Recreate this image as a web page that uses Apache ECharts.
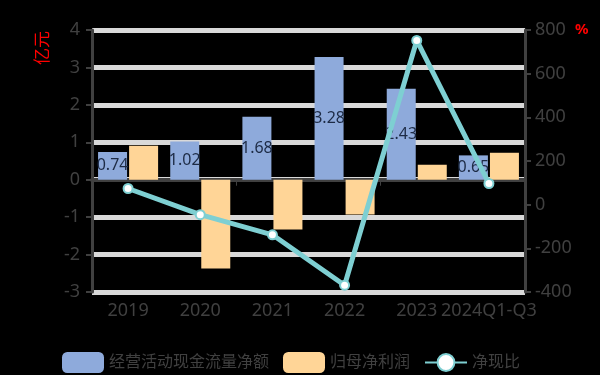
<!DOCTYPE html>
<html>
<head>
<meta charset="utf-8">
<style>
  html, body { margin: 0; padding: 0; background: #000; }
  #chart { width: 600px; height: 375px; }
</style>
<script src="https://cdn.jsdelivr.net/npm/echarts@6/dist/echarts.min.js"></script>
</head>
<body>
<div id="chart"></div>
<script>
// Categories along the x axis
const categories = ['2019', '2020', '2021', '2022', '2023', '2024Q1-Q3'];
// Operating cash flow, net (亿元)
const cashFlow = [0.74, 1.02, 1.68, 3.28, 2.43, 0.65];
// Net profit attributable to parent (亿元)
const netProfit = [0.91, -2.37, -1.33, -0.93, 0.40, 0.72];
// Cash-to-profit ratio (%)
const cashRatio = [74, -46, -138, -369, 752, 97];
const seriesNames = ['经营活动现金流量净额', '归母净利润', '净现比'];

const textColor = '#404040';
const font = '"Noto Sans", "Noto Sans CJK SC", sans-serif';

const chart = echarts.init(document.getElementById('chart'));
chart.setOption({
  backgroundColor: '#000',
  animation: false,
  textStyle: { fontFamily: font },
  grid: { left: 92, right: 75, top: 30, bottom: 83 },
  legend: {
    top: 347,
    left: 57,
    itemWidth: 42,
    itemHeight: 21,
    itemGap: 14,
    textStyle: { color: textColor, fontSize: 16, fontFamily: font },
    data: [
      { name: seriesNames[0], icon: 'roundRect' },
      { name: seriesNames[1], icon: 'roundRect' },
      { name: seriesNames[2] }
    ]
  },
  graphic: [
    {
      type: 'text', left: 35, top: 31, rotation: Math.PI / 2, originX: 0, originY: 0,
      style: { text: '亿元', fill: '#ff0000', fontSize: 17, fontFamily: font }
    },
    {
      type: 'text', left: 575, top: 22,
      style: { text: '%', fill: '#ff0000', fontSize: 15, fontWeight: 'bold', fontFamily: font }
    }
  ],
  xAxis: [
    {
      type: 'category',
      data: categories,
      axisLine: { onZero: true, lineStyle: { color: textColor, width: 4 } },
      axisTick: { show: true, length: 6, lineStyle: { color: textColor, width: 1 } },
      axisLabel: { show: false }
    },
    {
      type: 'category',
      data: categories,
      position: 'bottom',
      axisLine: { show: false, onZero: false },
      axisTick: { show: false },
      axisLabel: { color: textColor, fontSize: 18, margin: 10, interval: 0, fontFamily: font }
    }
  ],
  yAxis: [
    {
      type: 'value',
      min: -3, max: 4, interval: 1,
      axisLine: { show: true, lineStyle: { color: textColor, width: 3 } },
      axisTick: { show: true, length: 6, lineStyle: { color: textColor, width: 2 } },
      axisLabel: { color: textColor, fontSize: 18, margin: 12, fontFamily: font },
      splitLine: { lineStyle: { color: '#d9d9d9', width: 5 } }
    },
    {
      type: 'value',
      min: -400, max: 800, interval: 200,
      position: 'right',
      axisLine: { show: true, lineStyle: { color: textColor, width: 3 } },
      axisTick: { show: true, length: 6, lineStyle: { color: textColor, width: 2 } },
      axisLabel: { color: textColor, fontSize: 18, margin: 10, fontFamily: font },
      splitLine: { show: false }
    }
  ],
  series: [
    {
      name: seriesNames[0],
      type: 'bar',
      data: cashFlow,
      barWidth: 29,
      barGap: '7%',
      itemStyle: { color: '#8eaadb' },
      label: {
        show: true,
        position: 'inside',
        color: '#1d2b45',
        fontSize: 16,
        fontFamily: font,
        formatter: p => p.value.toFixed(2)
      }
    },
    {
      name: seriesNames[1],
      type: 'bar',
      data: netProfit,
      barWidth: 29,
      itemStyle: { color: '#ffd597' }
    },
    {
      name: seriesNames[2],
      type: 'line',
      yAxisIndex: 1,
      data: cashRatio,
      symbol: 'circle',
      symbolSize: 9,
      lineStyle: { color: '#7ecfd2', width: 5 },
      itemStyle: { color: '#ffffff', borderColor: '#7ecfd2', borderWidth: 2 },
      z: 5
    }
  ]
});
</script>
</body>
</html>
